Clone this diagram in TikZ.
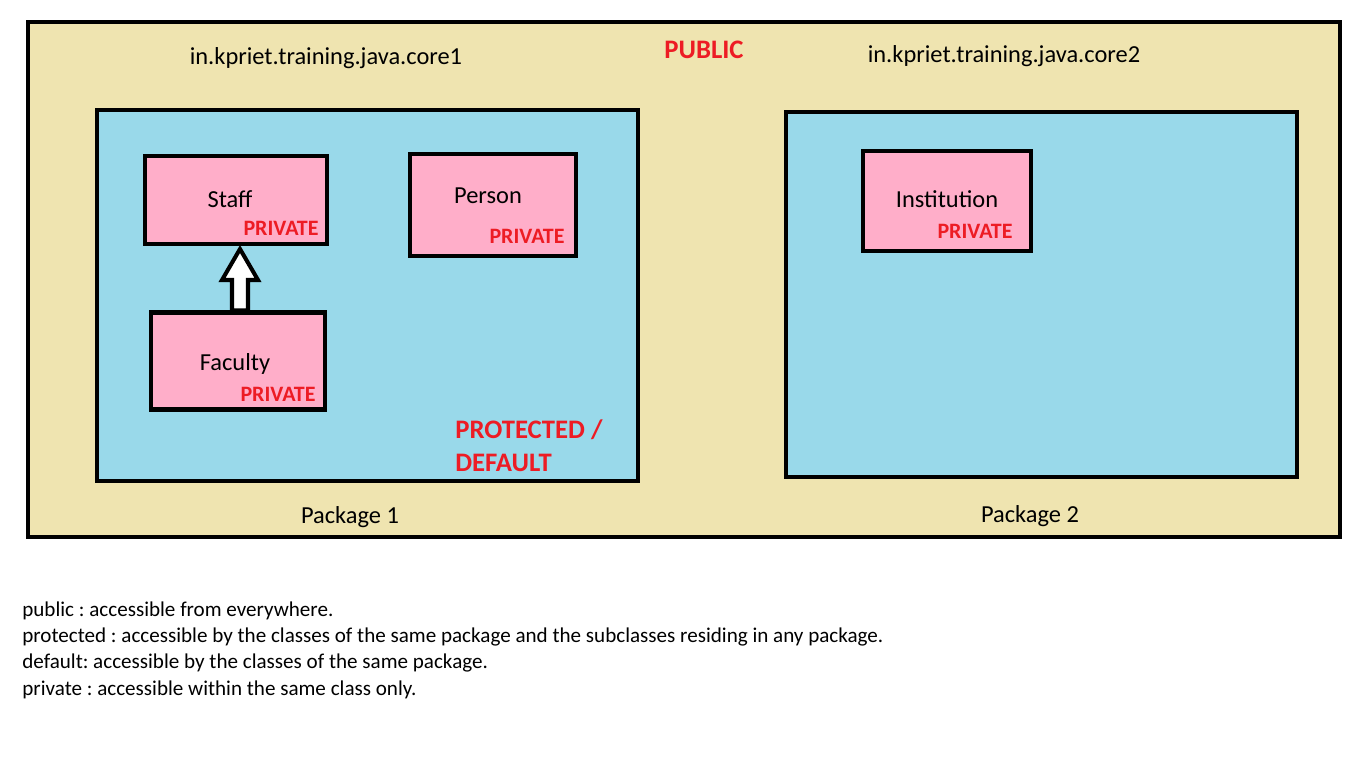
\documentclass[tikz,border=0pt]{standalone}
\usepackage{fontspec}
\setmainfont{Carlito}
\usepackage{tikz}
\usetikzlibrary{calc}
\frenchspacing

\definecolor{pubtan}{HTML}{EFE4B0}
\definecolor{pkgblue}{HTML}{99D9EA}
\definecolor{clspink}{HTML}{FFAEC9}
\definecolor{modred}{HTML}{ED1C24}

\tikzset{
	frame/.style={draw=black, line width=2.3pt},
	clsbox/.style={frame, fill=clspink, inner sep=0pt},
	plain/.style={font=\fontsize{13.9}{16}\selectfont, inner sep=0pt},
	legend/.style={font=\fontsize{12}{14}\selectfont, inner sep=0pt, anchor=west},
	modlabel/.style={text=modred, font=\fontsize{12.5}{14}\selectfont\bfseries, inner sep=0pt},
	biglabel/.style={text=modred, font=\fontsize{15.2}{18.8}\selectfont\bfseries, inner sep=0pt},
	inherit/.style={draw=black, fill=white, line width=2.3pt},
}

\begin{document}
\begin{tikzpicture}[x=0.2mm, y=-0.2mm]
		\useasboundingbox[fill=white] (0,0) rectangle (1350,768);
		% outer frame and packages
		\draw[frame, fill=pubtan] (28,22) rectangle (1340,537);
		\draw[frame, fill=pkgblue] (97,110) rectangle (638,481);
		\draw[frame, fill=pkgblue] (786,112) rectangle (1297,477);
		
		\node[plain] (core1) at (326,58) {in.kpriet.training.java.core1};
		\node[biglabel] (public) at (704,50) {PUBLIC};
		\node[plain] (core2) at (1004,56) {in.kpriet.training.java.core2};
		\node[plain] (pkg1) at (350,517) {Package 1};
		\node[plain] (pkg2) at (1030,516) {Package 2};
		\node[biglabel, align=left, anchor=north west] (protected) at (455,419) {PROTECTED /\\DEFAULT};
		
		% classes
		\node[clsbox, minimum width=36.4mm, minimum height=17.6mm] (staff) at (236,200) {};
		\node[clsbox, minimum width=33.2mm, minimum height=20.4mm] (person) at (493,205) {};
		\node[clsbox, minimum width=34.8mm, minimum height=19.4mm] (faculty) at (238,361) {};
		\node[clsbox, minimum width=33.6mm, minimum height=20mm] (institution) at (947,201) {};
		
		\node[plain] (staffname) at (230,199) {Staff};
		\node[modlabel] (staffmod) at (281,228) {PRIVATE};
		\node[plain] (personname) at (488,196) {Person};
		\node[modlabel] (personmod) at (527,236) {PRIVATE};
		\node[plain] (facultyname) at (235,364) {Faculty};
		\node[modlabel] (facultymod) at (278,394) {PRIVATE};
		\node[plain] (institutionname) at (947,199) {Institution};
		\node[modlabel] (institutionmod) at (975,231) {PRIVATE};
		
		% inheritance arrow
		\coordinate (abase) at (240,0 |- faculty.north);
		\coordinate (atip) at ($(240,0 |- staff.south)+(0,3)$);
		\draw[inherit] ($(abase)+(-8,0)$) -- ($(atip)+(-8,31)$) -- ($(atip)+(-18,31)$) -- (atip)
			-- ($(atip)+(18,31)$) -- ($(atip)+(8,31)$) -- ($(abase)+(8,0)$) -- cycle;
		
		% legend
		\node[legend] (lpublic) at (22,611) {public : accessible from everywhere.};
		\node[legend] (lprotected) at (22,637) {protected : accessible by the classes of the same package and the subclasses residing in any package.};
		\node[legend] (ldefault) at (22,663) {default: accessible by the classes of the same package.};
		\node[legend] (lprivate) at (22,690) {private : accessible within the same class only.};
	\end{tikzpicture}
\end{document}
